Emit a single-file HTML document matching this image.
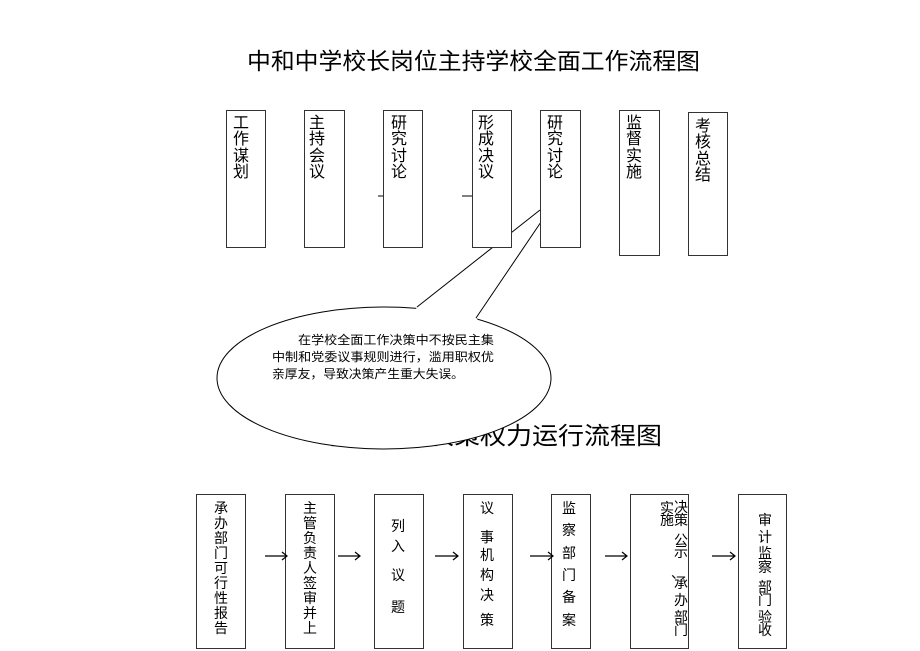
<!DOCTYPE html>
<html><head><meta charset="utf-8"><style>
html,body{margin:0;padding:0;background:#fff;}
svg{display:block;font-family:"Liberation Sans","Noto Sans CJK SC",sans-serif;}
</style></head><body>
<svg width="920" height="651" viewBox="0 0 920 651" xmlns="http://www.w3.org/2000/svg">
<rect width="920" height="651" fill="#fff"/>
<text x="247" y="69" font-size="23" textLength="453" lengthAdjust="spacingAndGlyphs" fill="#000">中和中学校长岗位主持学校全面工作流程图</text>
<text x="324" y="444" font-size="24" textLength="338" lengthAdjust="spacingAndGlyphs" fill="#000">学校重大决策权力运行流程图</text>

<!-- callout -->
<ellipse cx="384" cy="378" rx="167" ry="71" fill="#fff" stroke="#000" stroke-width="1"/>
<path d="M416,309 L417,307 L540,210 L476,318 L478,320 Z" fill="#fff" stroke="none"/>
<path d="M417,307 L540,210 M476,318 L541,222" fill="none" stroke="#000" stroke-width="1"/>
<g font-size="12" fill="#000">
<text x="298" y="344" textLength="196" lengthAdjust="spacingAndGlyphs">在学校全面工作决策中不按民主集</text>
<text x="272" y="361" textLength="222" lengthAdjust="spacingAndGlyphs">中制和党委议事规则进行，滥用职权优</text>
<text x="272" y="378" textLength="192" lengthAdjust="spacingAndGlyphs">亲厚友，导致决策产生重大失误。</text>
</g>

<!-- top boxes -->
<g fill="#fff" stroke="#333" stroke-width="1">
<rect x="226.5" y="110.5" width="39" height="137"/>
<rect x="304.5" y="110.5" width="40" height="137"/>
<rect x="383.5" y="110.5" width="39" height="137"/>
<rect x="472.5" y="110.5" width="39" height="137"/>
<rect x="540.5" y="110.5" width="40" height="137"/>
<rect x="619.5" y="110.5" width="40" height="145"/>
<rect x="688.5" y="112.5" width="39" height="143"/>
</g>
<path d="M378,196 H383 M462,196 H472" stroke="#000"/>
<g font-size="16" fill="#000" text-anchor="middle">
<text x="241" y="128">工</text><text x="241" y="144">作</text><text x="241" y="161">谋</text><text x="241" y="177">划</text>
<text x="317" y="128">主</text><text x="317" y="144">持</text><text x="317" y="161">会</text><text x="317" y="177">议</text>
<text x="399" y="128">研</text><text x="399" y="144">究</text><text x="399" y="161">讨</text><text x="399" y="177">论</text>
<text x="486" y="128">形</text><text x="486" y="144">成</text><text x="486" y="161">决</text><text x="486" y="177">议</text>
<text x="555" y="128">研</text><text x="555" y="144">究</text><text x="555" y="161">讨</text><text x="555" y="177">论</text>
<text x="634" y="128">监</text><text x="634" y="144">督</text><text x="634" y="161">实</text><text x="634" y="177">施</text>
<text x="703" y="131">考</text><text x="703" y="147">核</text><text x="703" y="164">总</text><text x="703" y="180">结</text>
</g>

<!-- bottom boxes -->
<g fill="#fff" stroke="#333" stroke-width="1">
<rect x="196.5" y="494.5" width="49" height="154"/>
<rect x="285.5" y="494.5" width="49" height="154"/>
<rect x="374.5" y="494.5" width="49" height="154"/>
<rect x="463.5" y="494.5" width="49" height="154"/>
<rect x="551.5" y="494.5" width="39" height="154"/>
<rect x="630.5" y="494.5" width="58" height="154"/>
<rect x="738.5" y="494.5" width="48" height="154"/>
</g>
<g stroke="#000" stroke-width="1.2" fill="none">
<path d="M265,556 H287 M282,552 L287,556 L282,560"/>
<path d="M338,556 H360 M355,552 L360,556 L355,560"/>
<path d="M435,556 H458 M453,552 L458,556 L453,560"/>
<path d="M530,556 H553 M548,552 L553,556 L548,560"/>
<path d="M605,556 H627 M622,552 L627,556 L622,560"/>
<path d="M712,556 H735 M730,552 L735,556 L730,560"/>
</g>
<g font-size="14" fill="#000" text-anchor="middle">
<text x="221" y="513">承</text><text x="221" y="528">办</text><text x="221" y="543">部</text><text x="221" y="558">门</text><text x="221" y="573">可</text><text x="221" y="588">行</text><text x="221" y="603">性</text><text x="221" y="618">报</text><text x="221" y="633">告</text>
<text x="310" y="513">主</text><text x="310" y="528">管</text><text x="310" y="543">负</text><text x="310" y="558">责</text><text x="310" y="573">人</text><text x="310" y="588">签</text><text x="310" y="603">审</text><text x="310" y="618">并</text><text x="310" y="633">上</text>
<text x="398" y="531">列</text><text x="398" y="551">入</text><text x="398" y="580">议</text><text x="398" y="612">题</text>
<text x="487" y="513">议</text><text x="487" y="542">事</text><text x="487" y="560">机</text><text x="487" y="580">构</text><text x="487" y="600">决</text><text x="487" y="625">策</text>
<text x="569" y="513">监</text><text x="569" y="535">察</text><text x="569" y="558">部</text><text x="569" y="580">门</text><text x="569" y="602">备</text><text x="569" y="625">案</text>
<text x="681" y="512">决</text><text x="681" y="525">策</text><text x="681" y="545">公</text><text x="681" y="557">示</text><text x="678" y="578">、</text><text x="681" y="588">承</text><text x="681" y="605">办</text><text x="681" y="622">部</text><text x="681" y="635">门</text>
<text x="667" y="513">实</text><text x="667" y="525">施</text>
<text x="765" y="525">审</text><text x="765" y="542">计</text><text x="765" y="558">监</text><text x="765" y="572">察</text><text x="765" y="592">部</text><text x="765" y="605">门</text><text x="765" y="622">验</text><text x="765" y="635">收</text>
</g>
</svg>
</body></html>
